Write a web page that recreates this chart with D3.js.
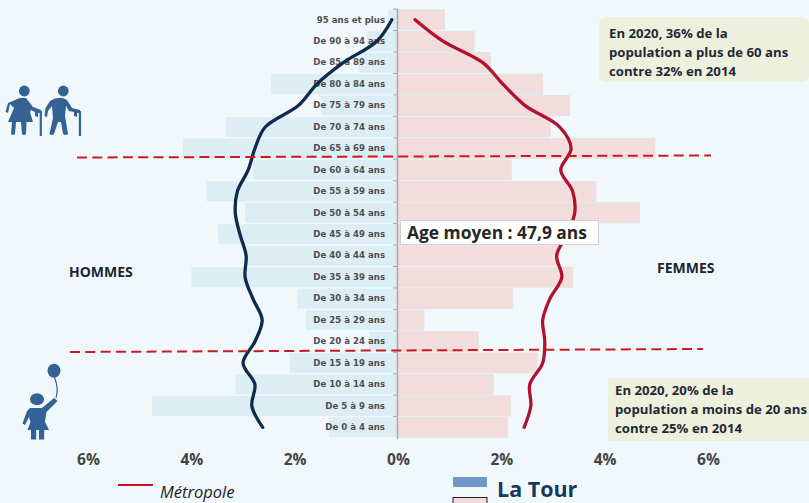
<!DOCTYPE html>
<html>
<head>
<meta charset="utf-8">
<script src="https://cdn.jsdelivr.net/npm/d3@7"></script>
<style>
  html, body { margin: 0; padding: 0; background: #f0f8fb; }
  svg { display: block; }
  text { font-family: "Open Sans", sans-serif; }
</style>
</head>
<body>
<div id="chart"></div>
<script>
// Values, in % of the population, oldest age group first
const ages = ["95 ans et plus", "De 90 à 94 ans", "De 85 à 89 ans", "De 80 à 84 ans", "De 75 à 79 ans",
    "De 70 à 74 ans", "De 65 à 69 ans", "De 60 à 64 ans", "De 55 à 59 ans", "De 50 à 54 ans",
    "De 45 à 49 ans", "De 40 à 44 ans", "De 35 à 39 ans", "De 30 à 34 ans", "De 25 à 29 ans",
    "De 20 à 24 ans", "De 15 à 19 ans", "De 10 à 14 ans", "De 5 à 9 ans", "De 0 à 4 ans"]
const hommes = [0.17, 0.58, 0.75, 2.44, 1.47, 3.31, 4.14, 2.79, 3.69, 2.94, 3.46, 2.90, 3.98, 1.93, 1.76, 0.54, 2.07, 3.13, 4.74, 1.32]
const femmes = [0.92, 1.49, 1.81, 2.82, 3.34, 2.97, 4.99, 2.21, 3.85, 4.69, 3.50, 3.13, 3.40, 2.24, 0.52, 1.57, 2.71, 1.86, 2.19, 2.14]
const metropoleHommes = [0.10, 0.39, 1.04, 1.55, 1.91, 2.55, 2.75, 2.88, 3.09, 3.13, 3.04, 2.92, 2.94, 2.79, 2.61, 2.75, 2.98, 2.75, 2.81, 2.60]
const metropoleFemmes = [0.35, 0.89, 1.66, 2.05, 2.48, 3.15, 3.37, 3.17, 3.40, 3.44, 3.29, 3.09, 3.19, 2.96, 2.82, 2.86, 2.82, 2.57, 2.59, 2.46]
const xTicks = [-6, -4, -2, 0, 2, 4, 6]

const width = 809, height = 503

const svg = d3.select("#chart")
    .append("svg")
    .attr("width", width)
    .attr("height", height)

// Scales: negative side = men, positive side = women
const x = d3.scaleLinear().domain([-6, 6]).range([87, 707])
const y = d3.scaleBand().domain(ages).range([8.3, 438.8]).padding(0.07)

// ------------------------------- //
// Bars
// ------------------------------- //
svg.append("g").selectAll("rect")
    .data(hommes)
    .enter()
    .append("rect")
    .attr("x", d => x(-d))
    .attr("y", (d, i) => y(ages[i]))
    .attr("width", d => x(0) - x(-d))
    .attr("height", y.bandwidth())
    .attr("fill", "#dcedf3")

svg.append("g").selectAll("rect")
    .data(femmes)
    .enter()
    .append("rect")
    .attr("x", x(0))
    .attr("y", (d, i) => y(ages[i]))
    .attr("width", d => x(d) - x(0))
    .attr("height", y.bandwidth())
    .attr("fill", "#f3dcdc")
    .attr("stroke", "#e6e2e2")
    .attr("stroke-width", 1)

// ------------------------------- //
// Axes
// ------------------------------- //
const yAxis = svg.append("g")
    .attr("transform", "translate(" + x(0) + ",0)")
    .call(d3.axisLeft(y).tickSize(0).tickPadding(12))
yAxis.select(".domain").attr("stroke", "#a8a8a8").attr("stroke-width", 1.5)
yAxis.selectAll("text")
    .style("font-family", "'DejaVu Sans', sans-serif")
    .style("font-size", "8.6px")
    .style("font-weight", "bold")
    .attr("fill", "#505050")

// small ticks between age groups
svg.append("g").selectAll("line")
    .data(ages)
    .enter()
    .append("line")
    .attr("x1", x(0) - 4)
    .attr("x2", x(0))
    .attr("y1", d => y(d) - 0.7)
    .attr("y2", d => y(d) - 0.7)
    .attr("stroke", "#a8a8a8")

const xAxis = svg.append("g")
    .attr("transform", "translate(1,451)")
    .call(d3.axisBottom(x).tickValues(xTicks).tickSize(0).tickFormat(d => Math.abs(d) + "%"))
xAxis.select(".domain").remove()
xAxis.selectAll("text")
    .style("font-size", "15.5px")
    .style("font-weight", "bold")
    .attr("fill", "#444")

// ------------------------------- //
// Metropole curves
// ------------------------------- //
const curveH = d3.line()
    .x(d => x(-d.v))
    .y(d => y(d.age) + y.bandwidth() / 2)
    .curve(d3.curveCatmullRom)
const curveF = d3.line()
    .x(d => x(d.v))
    .y(d => y(d.age) + y.bandwidth() / 2)
    .curve(d3.curveCatmullRom)

svg.append("path")
    .attr("d", curveH(metropoleHommes.map((v, i) => ({ v: v, age: ages[i] }))))
    .attr("fill", "none")
    .attr("stroke", "#0f2a4a")
    .attr("stroke-width", 3.3)
    .attr("stroke-linecap", "round")
svg.append("path")
    .attr("d", curveF(metropoleFemmes.map((v, i) => ({ v: v, age: ages[i] }))))
    .attr("fill", "none")
    .attr("stroke", "#b0122f")
    .attr("stroke-width", 3.3)
    .attr("stroke-linecap", "round")

// ------------------------------- //
// Dashed separators
// ------------------------------- //
svg.append("line").attr("x1", 77).attr("y1", 157.5).attr("x2", 711).attr("y2", 155.5)
    .attr("stroke", "#d0161e").attr("stroke-width", 2).attr("stroke-dasharray", "10,5.3")
svg.append("line").attr("x1", 70).attr("y1", 352).attr("x2", 703).attr("y2", 349)
    .attr("stroke", "#d0161e").attr("stroke-width", 2).attr("stroke-dasharray", "10,5.3")

// ------------------------------- //
// Annotations
// ------------------------------- //
svg.append("rect").attr("x", 400.5).attr("y", 220.5).attr("width", 198).attr("height", 24)
    .attr("fill", "#fff").attr("stroke", "#d0d0d0")
svg.append("text").attr("x", 407).attr("y", 239)
    .text("Age moyen : 47,9 ans")
    .style("font-size", "17.4px").style("font-weight", "bold").attr("fill", "#262626")

svg.append("text").attr("x", 69).attr("y", 277).text("HOMMES")
    .style("font-size", "14px").style("font-weight", "bold").attr("fill", "#1a2433")
svg.append("text").attr("x", 657).attr("y", 273).text("FEMMES")
    .style("font-size", "14px").style("font-weight", "bold").attr("fill", "#1a2433")

function callout(x0, y0, w, h, r, lines, tx, ty) {
    svg.append("rect").attr("x", x0).attr("y", y0).attr("width", w).attr("height", h)
        .attr("rx", r).attr("fill", "#edf0dd")
    lines.forEach((l, i) => {
        svg.append("text").attr("x", tx).attr("y", ty + i * 19).text(l)
            .style("font-size", "13.2px").style("font-weight", "bold").attr("fill", "#1f2a36")
    })
}
callout(599, 17, 210, 65, 7, ["En 2020,  36% de la", "population a plus de 60 ans", "contre 32% en 2014"], 609, 38)
callout(608, 378, 201, 63, 0, ["En 2020,  20% de la", "population a moins de 20 ans", "contre 25% en 2014"], 615, 395)

// ------------------------------- //
// Legend
// ------------------------------- //
svg.append("line").attr("x1", 118).attr("y1", 485).attr("x2", 153).attr("y2", 485)
    .attr("stroke", "#c8101e").attr("stroke-width", 2)
svg.append("text").attr("x", 160).attr("y", 498).text("Métropole")
    .style("font-size", "16.5px").style("font-style", "italic").attr("fill", "#222")
svg.append("rect").attr("x", 453).attr("y", 477).attr("width", 34).attr("height", 10).attr("fill", "#7097c8")
svg.append("rect").attr("x", 453).attr("y", 497.5).attr("width", 34).attr("height", 12)
    .attr("fill", "#f3dcdc").attr("stroke", "#222")
svg.append("text").attr("x", 497).attr("y", 497).text("La Tour")
    .style("font-size", "21.5px").style("font-weight", "bold").attr("fill", "#17375e")

// ------------------------------- //
// Pictograms
// ------------------------------- //
const icons = svg.append("g").attr("fill", "#356295")
// old woman
icons.append("circle").attr("cx", 24.3).attr("cy", 91).attr("r", 5.4)
icons.append("path").attr("d", "M15 100 Q20 97 26 98 L33 107 L41 110 L41 113 L38 113 L38 117 L35 116 L35 112 L31 110 L30 112 L33 122 L26.5 122 L26 134 Q24 136 22 134 L21 122 L16 122 L15 134 Q13 136 11 134 L12 122 L8 122 L14 108 L10 104 L8 113 L5.5 112 L8 103 Z")
icons.append("rect").attr("x", 39.7).attr("y", 111).attr("width", 2.2).attr("height", 25)
// old man
icons.append("circle").attr("cx", 63.3).attr("cy", 91).attr("r", 5.4)
icons.append("path").attr("d", "M50 101 Q56 97 63 98 L67 100 L72 108 L80 110 L80 113 L77 113 L77 117 L74 116 L74 112 L69 111 L66 106 L65 116 L68 134 Q66 136 63 134 L61 122 L58 122 L54 134 Q52 136 49.5 134 L53 118 L52 106 L48 111 L47 117 L44.5 116 L45.5 108 Z")
icons.append("rect").attr("x", 78.8).attr("y", 111).attr("width", 2.2).attr("height", 25)
// child with balloon
icons.append("ellipse").attr("cx", 54).attr("cy", 370.7).attr("rx", 6.5).attr("ry", 7)
icons.append("path").attr("d", "M54.3 377 Q59 388 56 398").attr("fill", "none").attr("stroke", "#356295").attr("stroke-width", 1.2)
icons.append("ellipse").attr("cx", 37).attr("cy", 399.3).attr("rx", 7).attr("ry", 6)
icons.append("path").attr("d", "M30 408 L42 408 L54 398 L57.5 401 L46.5 412 L45 422 L49 430 L27.5 430 L30.5 422 L29 417 L25 425 L22.5 423.5 L27 411 Z")
icons.append("rect").attr("x", 31).attr("y", 430).attr("width", 5.2).attr("height", 9.5)
icons.append("rect").attr("x", 39).attr("y", 430).attr("width", 5.2).attr("height", 9.5)
</script>
</body>
</html>
